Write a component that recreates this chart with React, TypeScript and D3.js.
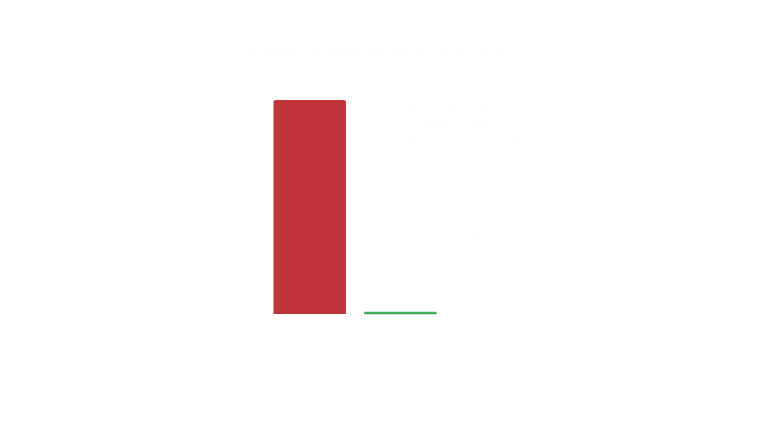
import React from "react";
import * as d3 from "d3";

const categories = ["Negative", "Positive"];
const values = [100, 1];
const barColors = ["#c1353a", "#3fae5a"];
const title = "Sentiment Distribution of Reviews";
const noteLines = ["Most reviews were", "classified as negative", "by the model this week"];
const sideLines = ["Positive share", "remains minimal"];

const W = 768;
const H = 423;
const margin = { top: 100, right: 331.5, bottom: 109, left: 273.5 };
const faint = "#fefefe";

export default function App() {
  const x = d3
    .scaleBand<string>()
    .domain(categories)
    .range([margin.left, W - margin.right])
    .paddingInner(0.2)
    .paddingOuter(0);
  const y = d3
    .scaleLinear()
    .domain([0, d3.max(values) as number])
    .range([H - margin.bottom, margin.top]);

  const radius = 2;
  const barPath = (x0: number, y0: number, w: number, h: number) => {
    const r = Math.min(radius, h / 2, w / 2);
    return `M${x0},${y0 + h}V${y0 + r}Q${x0},${y0} ${x0 + r},${y0}H${x0 + w - r}Q${x0 + w},${y0} ${x0 + w},${y0 + r}V${y0 + h}Z`;
  };

  return (
    <svg
      width={W}
      height={H}
      viewBox={`0 0 ${W} ${H}`}
      style={{ position: "absolute", left: 0, top: 0, background: "#ffffff", fontFamily: "'DejaVu Serif', serif" }}
    >
      <rect x={0} y={0} width={W} height={H} fill="#ffffff" />
      <text x={379} y={59} textAnchor="middle" fontSize={14} fontWeight="bold" fill={faint}>
        {title}
      </text>
      {categories.map((c, i) => {
        const x0 = x(c) as number;
        const y0 = y(values[i]);
        const h = y(0) - y0;
        return (
          <g key={c}>
            <path d={barPath(x0, y0, x.bandwidth(), Math.max(h, 2.4))} fill={barColors[i]} />
          </g>
        );
      })}
      <text x={(x(categories[1]) as number) + x.bandwidth() / 2} y={298} textAnchor="middle" fontSize={11} fill={faint}>
        {values[1]}
      </text>
      {noteLines.map((l, i) => (
        <text key={l} x={406} y={111 + i * 15} fontSize={10} fill={faint}>
          {l}
        </text>
      ))}
      {sideLines.map((l, i) => (
        <text key={l} x={426} y={237 + i * 15} fontSize={10} fill={faint}>
          {l}
        </text>
      ))}
    </svg>
  );
}
